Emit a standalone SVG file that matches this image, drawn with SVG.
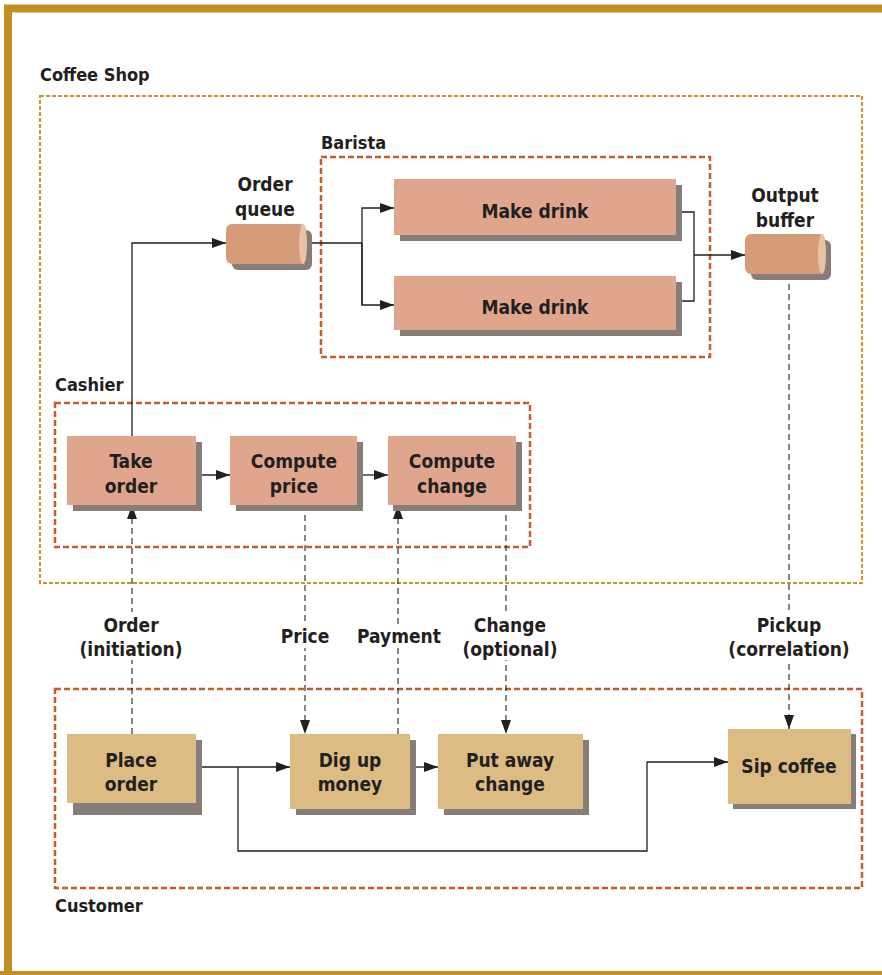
<svg xmlns="http://www.w3.org/2000/svg" width="882" height="975" viewBox="0 0 882 975">
<defs>
<style>
text{font-family:"Liberation Sans Narrow","DejaVu Sans Condensed","Liberation Sans",sans-serif;font-weight:bold;fill:#231f20;font-size:19px}
.lbl{text-anchor:middle}
.grp{text-anchor:start;font-size:18px}
.sal{fill:#e0a68d}
.tan{fill:#dcbc82}
.sh{fill:#877d79}
.ln{fill:none;stroke:#231f20;stroke-width:1.3}
.dl{fill:none;stroke:#231f20;stroke-width:1.1;stroke-dasharray:6,4}
.gold{fill:none;stroke:#c8962a;stroke-width:2;stroke-dasharray:4,2}
.red{fill:none;stroke:#c45e2c;stroke-width:2.5;stroke-dasharray:6,3}
</style>
<marker id="ah" viewBox="0 0 14 10" refX="14" refY="5" markerWidth="14" markerHeight="10" markerUnits="userSpaceOnUse" orient="auto"><path d="M0,0L14,5L0,10z" fill="#231f20"/></marker>
</defs>
<rect width="882" height="975" fill="#fff"/>
<path d="M8,975V8.5H882" fill="none" stroke="#c18f22" stroke-width="8"/>
<rect x="0" y="971" width="882" height="4" fill="#c18f22"/>

<g id="coffee-shop"><rect class="gold" x="40" y="96" width="822" height="487"/><text class="grp" x="40" y="81">Coffee Shop</text></g>
<g id="barista"><rect class="red" x="321" y="157" width="389" height="200"/><text class="grp" x="321" y="149">Barista</text></g>
<g id="cashier"><rect class="red" x="55" y="403" width="475" height="144"/><text class="grp" x="55" y="391">Cashier</text></g>
<g id="customer"><rect class="red" x="55" y="689" width="807" height="199"/><text class="grp" x="55" y="912">Customer</text></g>

<g id="connectors">
<path class="ln" d="M132,436V243H226" marker-end="url(#ah)"/>
<path class="ln" d="M306,243H362"/>
<path class="ln" d="M362,305V208H394" marker-end="url(#ah)"/>
<path class="ln" d="M362,243V305H394" marker-end="url(#ah)"/>
<path class="ln" d="M676,212H694V301H682"/>
<path class="ln" d="M694,255H745" marker-end="url(#ah)"/>
<path class="ln" d="M196,475H230" marker-end="url(#ah)"/>
<path class="ln" d="M357,475H388" marker-end="url(#ah)"/>
<path class="ln" d="M196,767H290" marker-end="url(#ah)"/>
<path class="ln" d="M410,767H438" marker-end="url(#ah)"/>
<path class="ln" d="M238,767V851H647V762H728" marker-end="url(#ah)"/>
<path class="dl" d="M132,734V505" marker-end="url(#ah)"/>
<path class="dl" d="M305,505V734" marker-end="url(#ah)"/>
<path class="dl" d="M398,734V505" marker-end="url(#ah)"/>
<path class="dl" d="M506,505V734" marker-end="url(#ah)"/>
<path class="dl" d="M789,274V729" marker-end="url(#ah)"/>
</g>

<g id="label-order"><rect x="80" y="612" width="102" height="48" fill="#fff"/><text class="lbl" x="131" y="632">Order</text><text class="lbl" x="131" y="656">(initiation)</text></g>
<g id="label-price"><rect x="280" y="624" width="50" height="24" fill="#fff"/><text class="lbl" x="305" y="643">Price</text></g>
<g id="label-payment"><rect x="358" y="624" width="82" height="24" fill="#fff"/><text class="lbl" x="399" y="643">Payment</text></g>
<g id="label-change"><rect x="470" y="612" width="82" height="48" fill="#fff"/><text class="lbl" x="510" y="632">Change</text><text class="lbl" x="510" y="656">(optional)</text></g>
<g id="label-pickup"><rect x="733" y="612" width="112" height="48" fill="#fff"/><text class="lbl" x="789" y="632">Pickup</text><text class="lbl" x="789" y="656">(correlation)</text></g>

<g id="order-queue">
<rect class="sh" x="232" y="230" width="80" height="40" rx="6"/>
<rect x="226" y="224" width="80" height="40" rx="6" fill="#d49c78"/>
<ellipse cx="303" cy="244" rx="4" ry="20" fill="#ecc2a4"/>
<text class="lbl" x="265" y="191">Order</text><text class="lbl" x="265" y="216">queue</text>
</g>
<g id="output-buffer">
<rect class="sh" x="751" y="240" width="80" height="40" rx="6"/>
<rect x="745" y="234" width="80" height="40" rx="6" fill="#d49c78"/>
<ellipse cx="822" cy="254" rx="4" ry="20" fill="#ecc2a4"/>
<text class="lbl" x="785" y="202">Output</text><text class="lbl" x="785" y="227">buffer</text>
</g>

<g id="make-drink-1"><rect class="sh" x="400" y="185" width="282" height="56"/><rect class="sal" x="394" y="179" width="282" height="56"/><text class="lbl" x="535" y="218">Make drink</text></g>
<g id="make-drink-2"><rect class="sh" x="400" y="282" width="282" height="54"/><rect class="sal" x="394" y="276" width="282" height="54"/><text class="lbl" x="535" y="314">Make drink</text></g>

<g id="take-order"><rect class="sh" x="73" y="442" width="129" height="69"/><rect class="sal" x="67" y="436" width="129" height="69"/><text class="lbl" x="131" y="468">Take</text><text class="lbl" x="131" y="493">order</text></g>
<g id="compute-price"><rect class="sh" x="236" y="442" width="127" height="69"/><rect class="sal" x="230" y="436" width="127" height="69"/><text class="lbl" x="294" y="468">Compute</text><text class="lbl" x="294" y="493">price</text></g>
<g id="compute-change"><rect class="sh" x="393" y="442" width="129" height="69"/><rect class="sal" x="388" y="436" width="128" height="69"/><text class="lbl" x="452" y="468">Compute</text><text class="lbl" x="452" y="493">change</text></g>

<g id="place-order"><rect class="sh" x="73" y="740" width="129" height="75"/><rect class="tan" x="67" y="734" width="129" height="69"/><text class="lbl" x="131" y="767">Place</text><text class="lbl" x="131" y="791">order</text></g>
<g id="dig-up-money"><rect class="sh" x="296" y="740" width="120" height="75"/><rect class="tan" x="290" y="734" width="120" height="75"/><text class="lbl" x="350" y="767">Dig up</text><text class="lbl" x="350" y="791">money</text></g>
<g id="put-away-change"><rect class="sh" x="444" y="740" width="145" height="75"/><rect class="tan" x="438" y="734" width="145" height="75"/><text class="lbl" x="510" y="767">Put away</text><text class="lbl" x="510" y="791">change</text></g>
<g id="sip-coffee"><rect class="sh" x="733" y="734" width="123" height="75"/><rect class="tan" x="728" y="729" width="123" height="75"/><text class="lbl" x="789" y="773">Sip coffee</text></g>
</svg>
